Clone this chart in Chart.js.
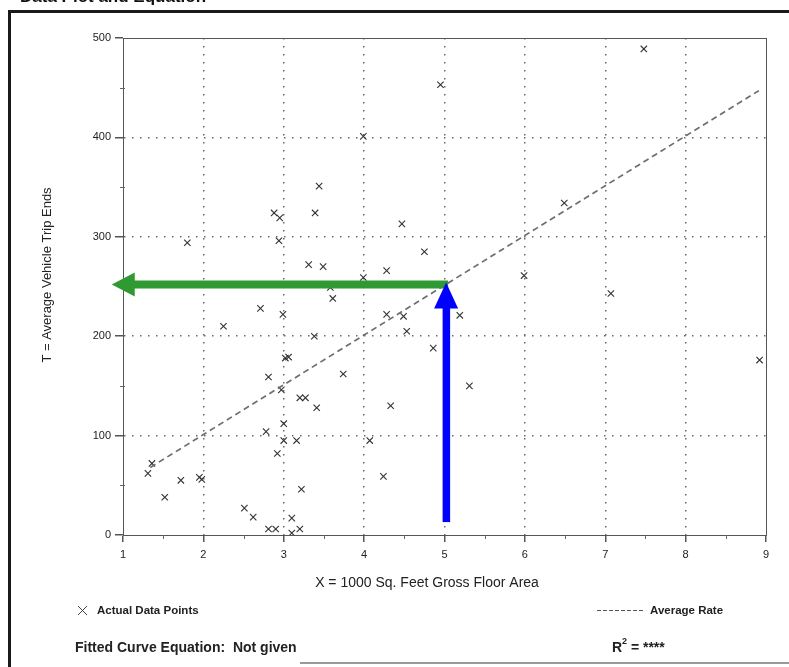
<!DOCTYPE html>
<html>
<head>
<meta charset="utf-8">
<script src="https://cdn.jsdelivr.net/npm/chart.js@4.4.1/dist/chart.umd.min.js"></script>
<style>
  body { margin: 0; background: #fff; }
  canvas { display: block; }
</style>
</head>
<body>
<canvas id="plot" width="789" height="667"></canvas>
<script>
// actual data points (x = 1000 sq ft GFA, t = trip ends)
var areaX = [1.31, 1.36, 1.52, 1.72, 1.80, 1.95, 1.98, 2.25, 2.51, 2.62,
             2.71, 2.78, 2.81, 2.81, 2.88, 2.90, 2.92, 2.94, 2.95, 2.97,
             2.99, 3.00, 3.00, 3.02, 3.06, 3.10, 3.10, 3.16, 3.20, 3.20,
             3.22, 3.27, 3.31, 3.38, 3.39, 3.41, 3.44, 3.49, 3.58, 3.61,
             3.74, 3.99, 3.99, 4.07, 4.24, 4.28, 4.28, 4.33, 4.47, 4.49,
             4.53, 4.75, 4.86, 4.95, 5.19, 5.31, 5.99, 6.49, 7.07, 7.48, 8.92];
var tripEnds = [62, 72, 38, 55, 294, 58, 56, 210, 27, 18,
                228, 104, 159, 6, 324, 6, 82, 296, 319, 146,
                222, 112, 95, 178, 179, 17, 2, 95, 138, 6,
                46, 138, 272, 200, 324, 128, 351, 270, 249, 238,
                162, 401, 259, 95, 59, 266, 222, 130, 313, 220,
                205, 285, 188, 453, 221, 150, 261, 334, 243, 489, 176];

// average rate line end points
var rateX = [1.34, 8.91];
var rateY = [68, 447];

// axis ticks
var xTicks = [1, 2, 3, 4, 5, 6, 7, 8, 9];
var yTicks = [0, 100, 200, 300, 400, 500];

// the two marker arrows drawn on the scan
var arrowAtX = 5.02;
var arrowAtY = 252;
var greenArrowToX = 0.86;
var blueArrowFromY = 13;

var points = [];
for (var i in areaX) {
  points.push({x: areaX[i], y: tripEnds[i]});
}
var rateLine = [];
for (var j in rateX) {
  rateLine.push({x: rateX[j], y: rateY[j]});
}

function gridColor(ctx, lo, hi) {
  if (ctx.tick && (ctx.tick.value === lo || ctx.tick.value === hi)) return 'rgba(0,0,0,0)';
  return '#6a6a6a';
}

var sheet = {
  id: 'sheet',
  afterDraw: function(chart) {
    var c = chart.ctx;
    var a = chart.chartArea;
    var xs = chart.scales.x, ys = chart.scales.y;
    c.save();

    // plot box
    c.strokeStyle = '#555';
    c.lineWidth = 1;
    c.strokeRect(a.left + 0.5, a.top + 0.5, a.right - a.left, a.bottom - a.top);

    // minor ticks
    c.strokeStyle = '#666';
    for (var v = 50; v < 500; v += 100) {
      var py = Math.round(ys.getPixelForValue(v)) + 0.5;
      c.beginPath(); c.moveTo(a.left - 3, py); c.lineTo(a.left + 2, py); c.stroke();
    }
    for (var u = 1.5; u < 9; u += 1) {
      var px = Math.round(xs.getPixelForValue(u)) + 0.5;
      c.beginPath(); c.moveTo(px, a.bottom); c.lineTo(px, a.bottom + 4); c.stroke();
    }

    // page frame
    c.fillStyle = '#1a1a1a';
    c.fillRect(8, 10, 3, 657);
    c.fillRect(8, 10, 781, 3);
    c.fillStyle = '#9a9a9a';
    c.fillRect(300, 662, 489, 2);

    // heading (cut off at top of scan)
    c.fillStyle = '#111';
    c.font = 'bold 17px "Liberation Sans", Arial, sans-serif';
    c.textAlign = 'left';
    c.textBaseline = 'alphabetic';
    c.fillText('Data Plot and Equation', 20, 2);

    // axis titles
    c.fillStyle = '#222';
    c.font = '14px "Liberation Sans", Arial, sans-serif';
    c.textAlign = 'center';
    c.textBaseline = 'middle';
    c.fillText('X = 1000 Sq. Feet Gross Floor Area', 427, 583);
    c.save();
    c.translate(47, 275);
    c.rotate(-Math.PI / 2);
    c.font = '13px "Liberation Sans", Arial, sans-serif';
    c.fillText('T = Average Vehicle Trip Ends', 0, 0);
    c.restore();

    // key
    c.strokeStyle = '#444';
    c.lineWidth = 1;
    c.beginPath();
    c.moveTo(78, 606); c.lineTo(87, 615);
    c.moveTo(87, 606); c.lineTo(78, 615);
    c.stroke();
    c.font = 'bold 11.5px "Liberation Sans", Arial, sans-serif';
    c.textAlign = 'left';
    c.fillStyle = '#222';
    c.fillText('Actual Data Points', 97, 611);
    c.strokeStyle = '#555';
    c.setLineDash([4, 2]);
    c.beginPath(); c.moveTo(597, 610.5); c.lineTo(643, 610.5); c.stroke();
    c.setLineDash([]);
    c.fillText('Average Rate', 650, 611);

    c.font = 'bold 14px "Liberation Sans", Arial, sans-serif';
    c.fillText('Fitted Curve Equation:  Not given', 75, 648);
    c.fillText('R', 612, 648);
    c.font = 'bold 9px "Liberation Sans", Arial, sans-serif';
    c.fillText('2', 622, 642);
    c.font = 'bold 14px "Liberation Sans", Arial, sans-serif';
    c.fillText(' = ****', 627, 648);

    // arrows
    var ax = xs.getPixelForValue(arrowAtX);
    var ay = ys.getPixelForValue(arrowAtY);
    var gx = xs.getPixelForValue(greenArrowToX);
    c.fillStyle = '#2e9a31';
    c.fillRect(gx + 22, ay - 4, ax - gx - 20, 8);
    c.beginPath();
    c.moveTo(gx, ay); c.lineTo(gx + 23, ay - 12); c.lineTo(gx + 23, ay + 12);
    c.closePath(); c.fill();

    var by = ys.getPixelForValue(blueArrowFromY);
    c.fillStyle = '#0000ff';
    c.fillRect(ax - 3.5, ay + 22, 7.5, by - ay - 22);
    c.beginPath();
    c.moveTo(ax, ay - 2); c.lineTo(ax - 12, ay + 24); c.lineTo(ax + 12, ay + 24);
    c.closePath(); c.fill();

    c.restore();
  }
};

var tickFont = {family: '"Liberation Sans", Arial, sans-serif', size: 11};

var chart = new Chart(document.getElementById('plot'), {
  type: 'scatter',
  data: {
    datasets: [
      {
        label: 'Average Rate',
        type: 'line',
        data: rateLine,
        borderColor: '#6e6e6e',
        borderWidth: 1.7,
        borderDash: [6, 4],
        pointRadius: 0,
        fill: false
      },
      {
        label: 'Actual Data Points',
        data: points,
        pointStyle: 'crossRot',
        pointRadius: 4.5,
        borderColor: '#333',
        borderWidth: 1.1
      }
    ]
  },
  options: {
    responsive: false,
    animation: false,
    layout: {padding: {left: 0, top: 38, right: 23, bottom: 0}},
    plugins: {legend: {display: false}, tooltip: {enabled: false}},
    scales: {
      x: {
        type: 'linear',
        min: 1, max: 9,
        afterFit: function(s) { s.height = 132; },
        afterBuildTicks: function(s) { s.ticks = xTicks.map(function(v) { return {value: v}; }); },
        ticks: {font: tickFont, color: '#222', padding: 6, maxRotation: 0},
        grid: {
          color: function(ctx) { return gridColor(ctx, 1, 9); },
          lineWidth: 1.5,
          tickColor: '#555',
          tickLength: 7
        },
        border: {color: '#555', width: 1, dash: [1.5, 6.5]}
      },
      y: {
        min: 0, max: 500,
        afterFit: function(s) { s.width = 123; },
        afterBuildTicks: function(s) { s.ticks = yTicks.map(function(v) { return {value: v}; }); },
        ticks: {font: tickFont, color: '#222', padding: 4},
        grid: {
          color: function(ctx) { return gridColor(ctx, 0, 500); },
          lineWidth: 1.5,
          tickColor: '#555',
          tickLength: 8
        },
        border: {color: '#555', width: 1, dash: [1.5, 6.5]}
      }
    }
  },
  plugins: [sheet]
});
</script>
</body>
</html>
